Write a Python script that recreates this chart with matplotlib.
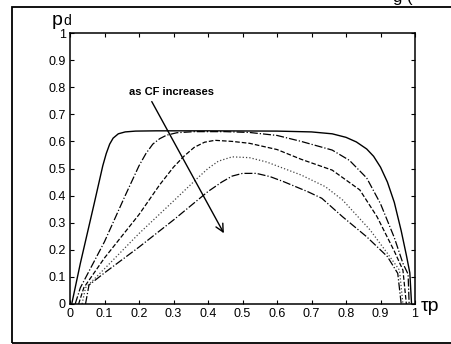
import matplotlib.pyplot as plt
from matplotlib.patches import Rectangle

plt.rcParams['font.family'] = ['Liberation Sans', 'DejaVu Sans']

# detection probability vs. tau_p, one curve per CF value
c1_x = [0.005, 0.03, 0.07, 0.095, 0.105, 0.115, 0.125, 0.14, 0.16, 0.19, 0.25, 0.4, 0.6, 0.7, 0.76, 0.8,
        0.83, 0.86, 0.88, 0.9, 0.92, 0.94, 0.96, 0.975, 0.985, 0.99]
c1_y = [0.0, 0.15, 0.37, 0.51, 0.555, 0.59, 0.612, 0.628, 0.635, 0.638, 0.639, 0.639, 0.638, 0.635, 0.628,
        0.615, 0.598, 0.572, 0.545, 0.505, 0.45, 0.375, 0.27, 0.18, 0.115, 0.0]

c2_x = [0.015, 0.03, 0.1, 0.16, 0.2, 0.22, 0.24, 0.26, 0.28, 0.31, 0.36, 0.45, 0.52, 0.6, 0.67, 0.76,
        0.81, 0.86, 0.9, 0.94, 0.965, 0.98, 0.983]
c2_y = [0.0, 0.06, 0.23, 0.40, 0.51, 0.555, 0.59, 0.61, 0.623, 0.632, 0.636, 0.636, 0.633, 0.622, 0.60, 0.568,
        0.53, 0.465, 0.37, 0.245, 0.15, 0.11, 0.0]

c3_x = [0.025, 0.04, 0.1, 0.2, 0.26, 0.3, 0.33, 0.36, 0.39, 0.42, 0.47, 0.52, 0.6, 0.67, 0.76, 0.84,
        0.89, 0.94, 0.965, 0.975]
c3_y = [0.0, 0.06, 0.17, 0.33, 0.44, 0.505, 0.545, 0.578, 0.597, 0.604, 0.60, 0.593, 0.57, 0.534, 0.494, 0.421,
        0.322, 0.195, 0.125, 0.0]

c4_x = [0.035, 0.045, 0.1, 0.2, 0.3, 0.37, 0.4, 0.43, 0.47, 0.52, 0.57, 0.62, 0.67, 0.74, 0.79, 0.87,
        0.92, 0.955, 0.965]
c4_y = [0.0, 0.06, 0.13, 0.26, 0.38, 0.465, 0.5, 0.527, 0.543, 0.54, 0.524, 0.50, 0.476, 0.433, 0.384, 0.273,
        0.187, 0.125, 0.0]

c5_x = [0.045, 0.055, 0.1, 0.2, 0.3, 0.4, 0.44, 0.47, 0.5, 0.54, 0.58, 0.62, 0.69, 0.73, 0.79, 0.86,
        0.92, 0.95, 0.96]
c5_y = [0.0, 0.07, 0.115, 0.21, 0.31, 0.415, 0.45, 0.472, 0.482, 0.482, 0.47, 0.451, 0.414, 0.39, 0.322, 0.248,
        0.175, 0.113, 0.0]

ticks = [0, 0.1, 0.2, 0.3, 0.4, 0.5, 0.6, 0.7, 0.8, 0.9, 1]
tick_labels = ['0', '0.1', '0.2', '0.3', '0.4', '0.5', '0.6', '0.7', '0.8', '0.9', '1']

W, H = 451, 344
fig = plt.figure(figsize=(W / 100, H / 100), dpi=100)

# box around the whole figure panel
fig.patches.append(Rectangle((12 / W, 1.5 / H), 1.0, (342.5 - 7) / H,
                             transform=fig.transFigure, fill=False,
                             edgecolor='black', lw=1.3))
# tail end of the caption line above the panel
fig.text(393 / W, 1.008, 'g (', fontsize=12, va='center', ha='left')

ax = fig.add_axes([70 / W, 1 - 304 / H, 345 / W, 271 / H])

ax.plot(c1_x, c1_y, color='black', lw=1.0, ls='-')
ax.plot(c2_x, c2_y, color='black', lw=0.9, ls='-.')
ax.plot(c3_x, c3_y, color='black', lw=0.9, ls='--')
ax.plot(c4_x, c4_y, color='#444444', lw=0.9, ls=':')
ax.plot(c5_x, c5_y, color='black', lw=0.9, ls='-.')

ax.set_xlim(0, 1)
ax.set_ylim(0, 1)
ax.set_xticks(ticks)
ax.set_xticklabels(tick_labels)
ax.set_yticks(ticks)
ax.set_yticklabels(tick_labels)
ax.tick_params(direction='in', length=3, width=0.8, top=True, right=True,
               labelsize=9, pad=3)
for sp in ax.spines.values():
    sp.set_linewidth(1.1)

ax.text(0.295, 0.782, 'as CF increases', fontsize=8, fontweight='bold',
        ha='center', va='center')
ax.annotate('', xy=(0.446, 0.261), xytext=(0.237, 0.747),
            arrowprops=dict(arrowstyle='->', color='black', lw=1.0,
                            mutation_scale=14, shrinkA=0, shrinkB=0))

# axis labels, MATLAB style at the ends of the axes
fig.text(52 / W, 1 - 25 / H, 'p', fontsize=14, va='baseline', ha='left')
fig.text(63.5 / W, 1 - 25 / H, 'd', fontsize=10, va='baseline', ha='left')
fig.text(421 / W, 1 - 311 / H, 'τp', fontsize=14, va='baseline', ha='left')

fig.savefig('out.png', dpi=100)
